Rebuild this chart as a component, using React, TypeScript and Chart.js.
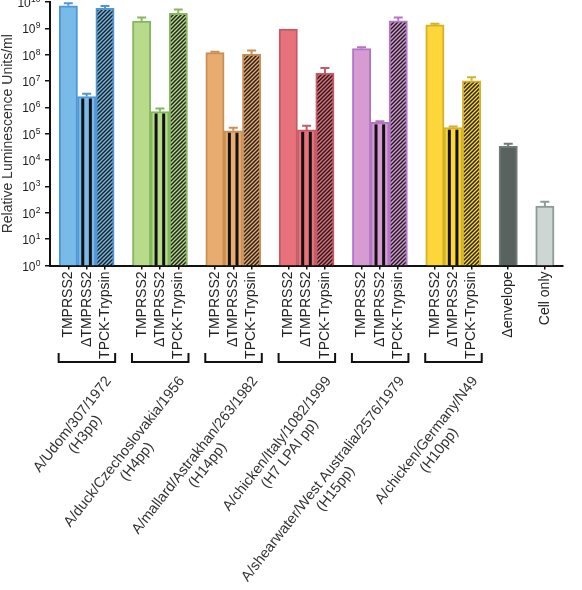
import React, { useEffect, useRef } from 'react';
import { Chart, registerables } from 'chart.js';

Chart.register(...registerables);

// ---------- data ----------
const conditions = ['TMPRSS2', 'ΔTMPRSS2', 'TPCK-Trypsin'];
const strains = [
  'A/Udom/307/1972',
  'A/duck/Czechoslovakia/1956',
  'A/mallard/Astrakhan/263/1982',
  'A/chicken/Italy/1082/1999',
  'A/shearwater/West Australia/2576/1979',
  'A/chicken/Germany/N49',
];
const subtypes = ['(H3pp)', '(H4pp)', '(H14pp)', '(H7 LPAI pp)', '(H15pp)', '(H10pp)'];

const tmprss2Values = [7.2e9, 1.9e9, 1.2e8, 9.3e8, 1.7e8, 1.35e9];
const tmprss2ErrTop = [8.9e9, 2.6e9, 1.3e8, 9.3e8, 1.9e8, 1.5e9];
const deltaTmprss2Values = [2.6e6, 7.0e5, 1.3e5, 1.4e5, 2.7e5, 1.7e5];
const deltaTmprss2ErrTop = [3.3e6, 9.1e5, 1.7e5, 2.0e5, 2.95e5, 1.9e5];
const tpckTrypsinValues = [5.8e9, 3.7e9, 1.05e8, 2.0e7, 1.95e9, 1.02e7];
const tpckTrypsinErrTop = [7.1e9, 5.2e9, 1.45e8, 3.1e7, 2.6e9, 1.4e7];

const controlLabels = ['Δenvelope', 'Cell only'];
const controlValues = [3.3e4, 1.8e2];
const controlErrTop = [4.2e4, 2.6e2];

const groupFill = ['#78bbe9', '#b7db8b', '#e8ac6f', '#e8727c', '#d69cd2', '#fdd63a'];
const groupBorder = ['#5096d6', '#86b65e', '#c98f55', '#c45b66', '#b376c6', '#d3b22a'];
const controlFill = ['#59625f', '#cdd6d3'];
const controlBorder = ['#6f7a77', '#8e9a97'];

const yExponents = [0, 1, 2, 3, 4, 5, 6, 7, 8, 9, 10];
const yTitle = 'Relative Luminescence Units/ml';

const FONT = "'Liberation Sans', Arial, Helvetica, sans-serif";

// ---------- build category table ----------
const seriesValues = [tmprss2Values, deltaTmprss2Values, tpckTrypsinValues];
const seriesErr = [tmprss2ErrTop, deltaTmprss2ErrTop, tpckTrypsinErrTop];

const labels: string[] = [''];
const values: (number | null)[] = [null];
const errTop: (number | null)[] = [null];
const fills: string[] = ['#fff'];
const borders: string[] = ['#fff'];
const kinds: number[] = [-1]; // 0 solid, 1 striped, 2 hatched, 3 control
const groupCenterIndex: number[] = [];

strains.forEach((_, g) => {
  conditions.forEach((c, k) => {
    if (k === 1) groupCenterIndex.push(labels.length);
    labels.push(c);
    values.push(seriesValues[k][g]);
    errTop.push(seriesErr[k][g]);
    fills.push(groupFill[g]);
    borders.push(groupBorder[g]);
    kinds.push(k);
  });
  labels.push('');
  values.push(null);
  errTop.push(null);
  fills.push('#fff');
  borders.push('#fff');
  kinds.push(-1);
});
controlLabels.forEach((c, i) => {
  labels.push(c);
  values.push(controlValues[i]);
  errTop.push(controlErrTop[i]);
  fills.push(controlFill[i]);
  borders.push(controlBorder[i]);
  kinds.push(3);
  labels.push('');
  values.push(null);
  errTop.push(null);
  fills.push('#fff');
  borders.push('#fff');
  kinds.push(-1);
});

function makeHatch(color: string): CanvasPattern | string {
  const c = document.createElement('canvas');
  c.width = 4;
  c.height = 4;
  const g = c.getContext('2d');
  if (!g) return color;
  g.fillStyle = color;
  g.fillRect(0, 0, 4, 4);
  g.strokeStyle = 'rgba(20,20,20,0.92)';
  g.lineWidth = 1.5;
  g.beginPath();
  g.moveTo(-1, 5);
  g.lineTo(5, -1);
  g.moveTo(-1, 1);
  g.lineTo(1, -1);
  g.moveTo(3, 5);
  g.lineTo(5, 3);
  g.stroke();
  return g.createPattern(c, 'repeat') || color;
}

const overlayPlugin = {
  id: 'overlay',
  afterDatasetsDraw(chart: any) {
    const ctx: CanvasRenderingContext2D = chart.ctx;
    const meta = chart.getDatasetMeta(0);
    const yScale = chart.scales.y;
    ctx.save();
    meta.data.forEach((bar: any, i: number) => {
      const v = values[i];
      if (v == null) return;
      const p = bar.getProps(['x', 'y', 'base', 'width'], true);
      if (kinds[i] === 1) {
        ctx.fillStyle = '#111';
        [-3.9, 3.7].forEach((dx) => {
          ctx.fillRect(p.x + dx - 1.5, p.y + 2, 3, p.base - p.y - 2);
        });
      }
      const e = errTop[i];
      if (e != null && e > v) {
        const ye = yScale.getPixelForValue(e);
        ctx.strokeStyle = borders[i];
        ctx.lineWidth = 2;
        ctx.beginPath();
        ctx.moveTo(p.x, p.y);
        ctx.lineTo(p.x, ye);
        ctx.moveTo(p.x - 4.5, ye);
        ctx.lineTo(p.x + 4.5, ye);
        ctx.stroke();
      }
    });
    ctx.restore();
  },
  afterDraw(chart: any) {
    const ctx: CanvasRenderingContext2D = chart.ctx;
    const yScale = chart.scales.y;
    const xScale = chart.scales.x;
    ctx.save();
    // y tick labels with superscripts
    ctx.fillStyle = '#222';
    yExponents.forEach((e) => {
      const y = yScale.getPixelForValue(Math.pow(10, e));
      const exp = String(e);
      ctx.font = `8.5px ${FONT}`;
      const ew = ctx.measureText(exp).width;
      const right = 40.5;
      ctx.textAlign = 'right';
      ctx.textBaseline = 'alphabetic';
      ctx.fillText(exp, right, y);
      ctx.font = `12px ${FONT}`;
      ctx.fillText('10', right - ew - 0.3, y + 5);
    });
    // brackets
    ctx.strokeStyle = '#111';
    ctx.lineWidth = 2;
    groupCenterIndex.forEach((idx) => {
      const cx = xScale.getPixelForValue(idx);
      ctx.beginPath();
      ctx.moveTo(cx - 28, 353);
      ctx.lineTo(cx - 28, 362);
      ctx.lineTo(cx + 28.5, 362);
      ctx.lineTo(cx + 28.5, 353);
      ctx.stroke();
    });
    // group labels
    ctx.fillStyle = '#333';
    ctx.font = `14.5px ${FONT}`;
    groupCenterIndex.forEach((idx, g) => {
      const cx = xScale.getPixelForValue(idx);
      ctx.save();
      ctx.translate(cx + 25, 381);
      ctx.rotate((-52 * Math.PI) / 180);
      ctx.textBaseline = 'alphabetic';
      ctx.textAlign = 'right';
      const w = ctx.measureText(strains[g]).width;
      ctx.fillText(strains[g], 0, 0);
      ctx.textAlign = 'center';
      ctx.fillText(subtypes[g], -w / 2, 16);
      ctx.restore();
    });
    ctx.restore();
  },
};

export default function App() {
  const canvasRef = useRef<HTMLCanvasElement | null>(null);

  useEffect(() => {
    const canvas = canvasRef.current;
    if (!canvas) return;
    const bgColors = labels.map((_, i) => (kinds[i] === 2 ? makeHatch(fills[i]) : fills[i]));
    const chart = new Chart(canvas, {
      type: 'bar',
      data: {
        labels,
        datasets: [
          {
            data: values as any,
            backgroundColor: bgColors as any,
            borderColor: borders,
            borderWidth: 2,
            borderSkipped: 'start',
            barPercentage: 1,
            categoryPercentage: 1,
          },
        ],
      },
      options: {
        responsive: false,
        animation: false,
        devicePixelRatio: 1,
        layout: { padding: { top: 2, right: 2, left: 0, bottom: 0 } },
        plugins: {
          legend: { display: false },
          tooltip: { enabled: false },
        },
        scales: {
          x: {
            type: 'category',
            offset: false,
            grid: {
              offset: false,
              drawOnChartArea: false,
              drawTicks: true,
              tickLength: 4,
              lineWidth: 1.5,
              color: (c: any) => (labels[c.index] ? '#111' : 'rgba(0,0,0,0)'),
            },
            border: { display: true, color: '#111', width: 2 },
            ticks: {
              autoSkip: false,
              minRotation: 90,
              maxRotation: 90,
              padding: 2,
              color: '#222',
              font: { size: 14, family: FONT },
            },
            afterFit: (scale: any) => {
              scale.height = 324.5;
            },
          },
          y: {
            type: 'logarithmic',
            min: 1,
            max: 1e10,
            grid: {
              drawOnChartArea: false,
              drawTicks: true,
              tickLength: 5,
              lineWidth: 1.5,
              color: '#111',
            },
            border: { display: true, color: '#111', width: 2 },
            ticks: { display: false },
            afterBuildTicks: (scale: any) => {
              scale.ticks = yExponents.map((e) => ({ value: Math.pow(10, e) }));
            },
            afterFit: (scale: any) => {
              scale.width = 50;
            },
            title: {
              display: true,
              text: yTitle,
              color: '#333',
              font: { size: 14, family: FONT, weight: 'normal' },
              padding: { top: 0, bottom: 0 },
            },
          },
        },
      },
      plugins: [overlayPlugin],
    });
    return () => chart.destroy();
  }, []);

  return (
    <div style={{ position: 'fixed', left: 0, top: 0, width: 582, height: 590, background: '#fff' }}>
      <canvas ref={canvasRef} width={582} height={590} style={{ display: 'block' }} />
    </div>
  );
}
